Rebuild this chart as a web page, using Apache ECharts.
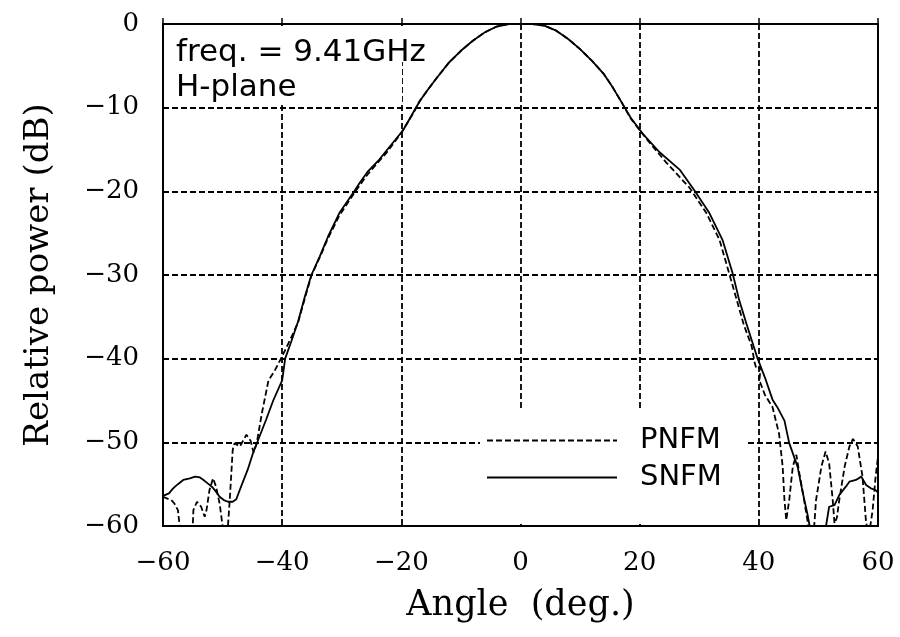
<!DOCTYPE html>
<html>
<head>
<meta charset="utf-8">
<script src="https://cdn.jsdelivr.net/npm/echarts@6/dist/echarts.min.js"></script>
<style>html,body{margin:0;padding:0;background:#fff}#c{width:900px;height:637px}</style>
</head>
<body>
<div id="c"></div>
<script>
// SNFM (solid) measured pattern
var snfmAngle = [-60,-59,-58.3,-57.5,-56.6,-55.5,-54.6,-53.8,-53.2,-52.5,-51.8,-51.2,-50.5,-49.8,-49.1,-48.3,-47.7,-46.9,-45.8,-44.9,-43.8,-42.7,-41.5,-40.0,-39.5,-38.5,-37.3,-36.2,-35.1,-33.7,-32.3,-30.4,-27.9,-27,-25.6,-23.7,-22,-19.7,-18.1,-16.9,-15.5,-14,-12,-10,-8,-6,-4,-2,0,2,4,6,8,10,12,14,15.5,17,18.5,20.5,23.3,26.7,29.2,31.7,33.9,35.6,36.7,38,39.8,41.2,42.3,43.1,44.3,45.1,46.5,47.4,48.2,48.5,49.2,51,51.3,51.8,52.7,53.5,54.6,55.2,56.3,57.2,58,58.8,59.6,60];
var snfmDb    = [-56.4,-56.1,-55.5,-55.0,-54.5,-54.3,-54.1,-54.2,-54.5,-54.9,-55.3,-55.8,-56.5,-56.9,-57.1,-57.1,-56.8,-55.3,-53.3,-51.3,-49.3,-47.3,-45.0,-42.6,-40.0,-38.0,-35.5,-32.6,-30.0,-27.8,-25.4,-22.6,-20.0,-19.0,-17.6,-16.2,-14.7,-12.7,-10.7,-9.2,-7.8,-6.4,-4.6,-3.2,-2.0,-1.0,-0.3,0,0,0,-0.2,-0.8,-1.8,-3.0,-4.4,-6.0,-7.6,-9.4,-11.2,-13.1,-15.3,-17.4,-19.9,-22.6,-25.8,-29.8,-33.0,-36.0,-40.0,-42.6,-44.9,-45.8,-47.4,-50.1,-52.9,-56.1,-58.7,-59.9,-62,-62,-59.9,-57.7,-57.5,-56.3,-55.3,-54.7,-54.5,-54.1,-55.1,-55.5,-55.7,-56.0];

// PNFM (dashed) measured pattern
var pnfmAngle = [-60,-59,-58.6,-58.1,-57.5,-57.2,-56.5,-55.3,-55.0,-54.9,-54.3,-53.6,-53.0,-52.7,-52.2,-51.6,-51.1,-50.5,-50.0,-49.5,-49.1,-48.8,-48.5,-48.3,-48.0,-47.1,-46.0,-45.3,-44.8,-44.3,-43.4,-42.3,-41.3,-40.2,-38.5,-37.3,-36.2,-35.1,-33.7,-32.3,-30.4,-27.9,-25.9,-24,-22.5,-20,-18.1,-16.9,-15.5,-14,-12,-10,-8,-6,-4,-2,0,2,4,6,8,10,12,14,15.5,17,18.5,21.1,24.4,28.4,31.2,33.4,35.1,36.3,37.5,38.8,39.3,39.6,40.3,40.1,41,42.3,43.4,44.0,44.3,44.6,45.1,45.7,46.3,46.8,47.6,48.2,48.6,49.1,49.6,50.5,51.2,51.8,52.4,52.7,53.1,53.5,54.4,55.2,55.8,56.6,57.4,58.0,58.5,59.1,59.6,60];
var pnfmDb    = [-56.5,-56.8,-56.9,-57.3,-58.1,-60,-62,-62,-60,-58.1,-57.1,-57.7,-58.9,-58.1,-55.7,-54.3,-55.3,-57.3,-60,-62,-60,-56.9,-53.3,-50.9,-50.1,-50.5,-49.1,-49.8,-51.2,-50.2,-46.5,-42.6,-41.5,-40.0,-37.5,-35.6,-32.8,-30.1,-27.9,-25.6,-22.9,-20.2,-18.2,-16.6,-15.4,-13.0,-10.8,-9.2,-7.8,-6.4,-4.6,-3.2,-2.0,-1.0,-0.3,0,0,0,-0.2,-0.8,-1.8,-3.0,-4.4,-6.0,-7.6,-9.4,-11.3,-13.7,-16.5,-19.6,-22.6,-25.8,-30.0,-33.0,-36.0,-38.5,-40.5,-41.2,-41.0,-42.6,-44.3,-45.8,-49.0,-52.9,-56.9,-59.3,-56.9,-52.9,-51.5,-53.7,-56.9,-59.5,-62,-62,-56.9,-52.9,-51.1,-52.5,-56.9,-59.7,-59.0,-56.9,-52.9,-50.5,-49.6,-50.5,-54.1,-59.6,-61,-58.1,-54.1,-51.7];

var xTicks = [-60,-40,-20,0,20,40,60];
var yTicks = [0,-10,-20,-30,-40,-50,-60];
var seriesNames = ['PNFM','SNFM'];
var noteLines = ['freq. = 9.41GHz','H-plane'];

function zip(a,b){var r=[];for(var i=0;i<a.length;i++)r.push([a[i],b[i]]);return r;}
function fmt(v){return v<0?'\u2212'+Math.abs(v):String(v);}

var chart = echarts.init(document.getElementById('c'), null, {renderer:'canvas'});
var serif = '"DejaVu Serif", "Liberation Serif", serif';
var sans = '"DejaVu Sans", "Noto Sans", sans-serif';
chart.setOption({
  animation:false,
  backgroundColor:'#fff',
  grid:{left:163,right:22,top:24,bottom:111,show:true,borderColor:'#000',borderWidth:2,backgroundColor:'transparent'},
  xAxis:{type:'value',min:-60,max:60,interval:20,
    name:'Angle  (deg.)',nameLocation:'middle',nameGap:62,
    nameTextStyle:{fontFamily:serif,fontSize:35,color:'#000'},
    axisLine:{show:false},
    axisTick:{show:true,inside:true,length:6,lineStyle:{color:'#000',width:1.5}},
    axisLabel:{fontFamily:serif,fontSize:26,color:'#000',margin:24,formatter:fmt},
    splitLine:{show:true,lineStyle:{color:'#000',width:1.8,type:[6,3]}}
  },
  yAxis:{type:'value',min:-60,max:0,interval:10,
    name:'Relative power (dB)',nameLocation:'middle',nameGap:107,nameRotate:90,
    nameTextStyle:{fontFamily:serif,fontSize:34,color:'#000'},
    axisLine:{show:false},axisTick:{show:false},
    axisLabel:{fontFamily:serif,fontSize:26,color:'#000',margin:24,formatter:fmt},
    splitLine:{show:true,lineStyle:{color:'#000',width:1.8,type:[6,3]}}
  },
  legend:{orient:'vertical',left:478,top:423,itemWidth:130,itemHeight:14,itemGap:6,
    padding:[2,24,2,8],
    itemStyle:{opacity:0},
    textStyle:{fontFamily:sans,fontSize:29,color:'#000',lineHeight:31,padding:[0,0,0,18]},
    data:seriesNames},
  graphic:[
    {type:'rect',left:164,top:26,z:1,shape:{width:238,height:78},style:{fill:'#fff'}},
    {type:'rect',left:400,top:26,z:1,shape:{width:40,height:36},style:{fill:'#fff'}},
    {type:'rect',left:480,top:410,z:1,shape:{width:268,height:114},style:{fill:'#fff'}},
    {type:'text',left:176,top:37,z:1,style:{text:noteLines[0],font:'31px '+sans,fill:'#000'}},
    {type:'text',left:176,top:72,z:1,style:{text:noteLines[1],font:'31px '+sans,fill:'#000'}}
  ],
  series:[
    {name:seriesNames[0],type:'line',data:zip(pnfmAngle,pnfmDb),symbol:'none',clip:true,z:3,
      itemStyle:{color:'#000'},
      lineStyle:{color:'#000',width:1.8,type:[6,3]}},
    {name:seriesNames[1],type:'line',data:zip(snfmAngle,snfmDb),symbol:'none',clip:true,z:4,
      itemStyle:{color:'#000'},
      lineStyle:{color:'#000',width:1.8,type:'solid'}}
  ]
});
</script>
</body>
</html>
